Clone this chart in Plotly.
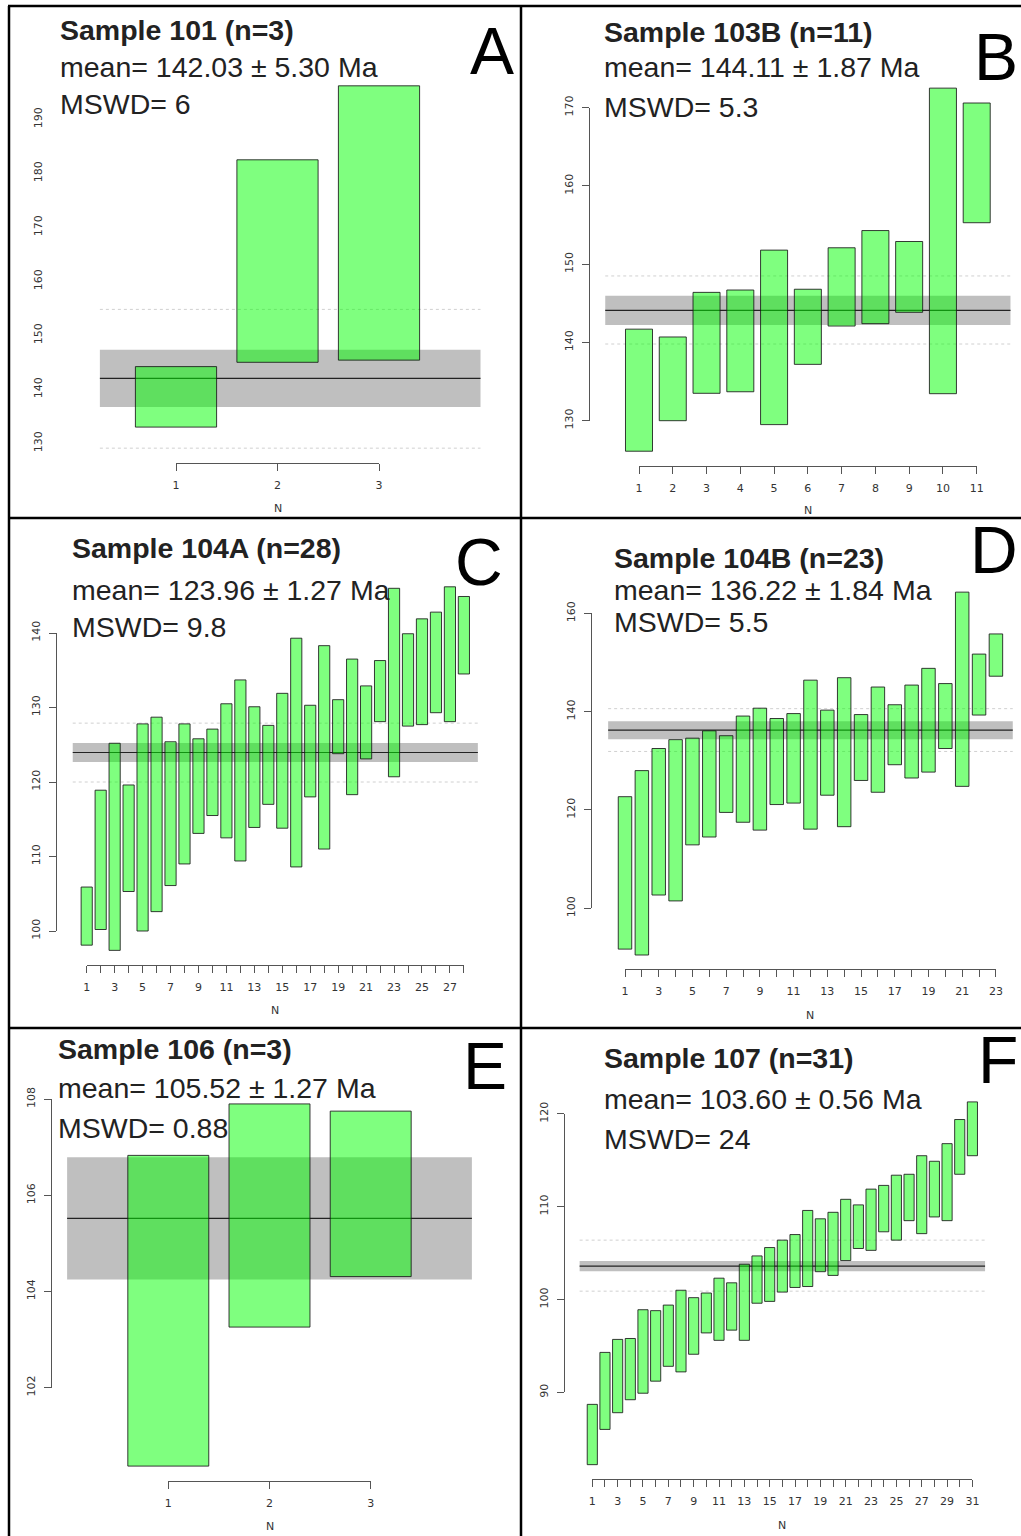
import plotly.graph_objects as go

W, H = 1021, 1536

# ---------------- data ----------------
samples = ["101", "103B", "104A", "104B", "106", "107"]
letters = ["A", "B", "C", "D", "E", "F"]
mean_ages = [142.03, 144.11, 123.96, 136.22, 105.52, 103.60]
mean_errs = [5.30, 1.87, 1.27, 1.84, 1.27, 0.56]
mswd_values = ["6", "5.3", "9.8", "5.5", "0.88", "24"]
spread_hi = [154.8, 148.5, 127.9, 140.6, None, 106.4]
spread_lo = [129.1, 139.8, 120.0, 131.9, None, 100.9]

hi_101 = [144.2, 182.5, 196.2]
lo_101 = [133.0, 145.0, 145.4]

hi_103B = [141.7, 140.7, 146.4, 146.7, 151.8, 146.8, 152.1, 154.3, 152.9, 172.5, 170.6]
lo_103B = [126.1, 130.0, 133.5, 133.7, 129.5, 137.2, 142.1, 142.4, 143.85, 133.45, 155.3]

hi_104A = [105.9, 118.9, 125.2, 119.6, 127.8, 128.7, 125.4, 127.8, 125.8, 127.1,
           130.5, 133.7, 130.1, 127.6, 131.9, 139.3, 130.3, 138.3, 131.05, 136.5,
           132.9, 136.3, 146.0, 139.9, 141.9, 142.8, 146.2, 144.9]
lo_104A = [98.1, 100.2, 97.4, 105.3, 100.0, 102.6, 106.1, 109.0, 113.1, 115.5,
           112.5, 109.4, 113.9, 117.0, 113.8, 108.6, 118.0, 111.0, 123.8, 118.3,
           123.1, 128.1, 120.7, 127.5, 127.7, 129.3, 128.1, 134.5]

hi_104B = [122.7, 128.0, 132.5, 134.3, 134.6, 136.1, 135.1, 139.1, 140.7, 138.6,
           139.6, 146.4, 140.3, 146.9, 139.4, 145.0, 141.4, 145.4, 148.8, 145.7,
           164.3, 151.7, 155.8]
lo_104B = [91.7, 90.5, 102.7, 101.5, 112.9, 114.5, 119.5, 117.5, 115.9, 121.1,
           121.4, 116.1, 123.0, 116.6, 126.0, 123.6, 129.2, 126.5, 127.7, 132.5,
           124.8, 139.3, 147.2]

hi_106 = [106.83, 107.90, 107.75]
lo_106 = [100.37, 103.26, 104.31]

hi_107 = [88.7, 94.3, 95.7, 95.8, 98.9, 98.8, 99.4, 101.0, 100.2, 100.7,
          102.3, 101.8, 103.8, 104.7, 105.6, 106.4, 107.0, 109.6, 108.7, 109.4,
          110.8, 110.2, 111.9, 112.3, 113.4, 113.5, 115.5, 114.9, 116.8, 119.4, 121.3]
lo_107 = [82.2, 86.0, 87.8, 89.2, 89.9, 91.2, 92.8, 92.2, 94.1, 96.4,
          95.6, 96.7, 95.6, 99.6, 99.8, 100.8, 101.3, 101.4, 103.0, 102.6,
          104.2, 105.5, 105.3, 107.3, 106.4, 108.5, 107.1, 108.9, 108.5, 113.5, 115.5]

highs = [hi_101, hi_103B, hi_104A, hi_104B, hi_106, hi_107]
lows = [lo_101, lo_103B, lo_104A, lo_104B, lo_106, lo_107]

# y tick sets (first, last, step)
ytick_specs = [(130, 190, 10), (130, 170, 10), (100, 140, 10), (100, 160, 20), (102, 108, 2), (90, 120, 10)]

# ---------------- panel geometry (pixels) ----------------
cal = [
    dict(X1=176.0, DX=101.5, V0=130, Y0=443.3, DY=5.40, xr=(0.25, 4.0), rows=(8, 516),
         yline=58, showy=False, xline=462.7, nlab=509,
         txt=(58, 30, 67, 104), let=(492, 51)),
    dict(X1=639.0, DX=33.77, V0=130, Y0=420.7, DY=7.825, xr=(0, 12), rows=(8, 516),
         yline=589, showy=True, xline=466, nlab=510,
         txt=(601.7, 31.7, 66.7, 107.3), let=(996, 57)),
    dict(X1=86.7, DX=13.97, V0=100, Y0=931.0, DY=7.45, xr=(0, 29), rows=(520, 1026),
         yline=56, showy=True, xline=965, nlab=1010.7,
         txt=(70, 548.3, 590, 626.7), let=(479, 562)),
    dict(X1=625.0, DX=16.86, V0=100, Y0=908.3, DY=4.917, xr=(0, 24), rows=(520, 1026),
         yline=591.3, showy=True, xline=969, nlab=1015,
         txt=(611.7, 558.3, 590, 622.3), let=(994, 550)),
    dict(X1=168.3, DX=101.2, V0=102, Y0=1387.7, DY=48.1, xr=(0, 4), rows=(1030, 1536),
         yline=51, showy=True, xline=1481, nlab=1526,
         txt=(56, 1049, 1088.3, 1128.3), let=(485, 1066)),
    dict(X1=592.3, DX=12.67, V0=90, Y0=1392.3, DY=9.278, xr=(0, 32), rows=(1030, 1536),
         yline=564.3, showy=True, xline=1479, nlab=1525,
         txt=(601.7, 1058.3, 1099, 1139), let=(998, 1060)),
]


def fx(px):
    return px / W


def fy(py):
    return 1 - py / H


fig = go.Figure()
layout = {}
shapes = []
annotations = []

AXC = "#555555"
TICKFONT = dict(family="DejaVu Sans", size=11, color="#333333")
TXTFONT = "Liberation Sans, Arial, sans-serif"
TXTSIZE = 28.5

for i in range(6):
    c = cal[i]
    hi = highs[i]
    lo = lows[i]
    n = len(hi)
    k = i + 1
    d = i + 7
    xn = "x" if k == 1 else f"x{k}"
    yn = "y" if k == 1 else f"y{k}"
    xa = "xaxis" if k == 1 else f"xaxis{k}"
    ya = "yaxis" if k == 1 else f"yaxis{k}"

    def xpx(v, c=c):
        return c["X1"] + (v - 1) * c["DX"]

    def ypx(v, c=c):
        return c["Y0"] - (v - c["V0"]) * c["DY"]

    def yval(p, c=c):
        return c["V0"] + (c["Y0"] - p) / c["DY"]

    top, bot = c["rows"]
    layout[xa] = dict(domain=[fx(xpx(c["xr"][0])), fx(xpx(c["xr"][1]))],
                      range=list(c["xr"]), visible=False, anchor=yn,
                      showgrid=False, zeroline=False)
    layout[ya] = dict(domain=[fy(bot), fy(top)], range=[yval(bot), yval(top)],
                      visible=False, anchor=xn, showgrid=False, zeroline=False)

    fig.add_trace(go.Bar(
        x=list(range(1, n + 1)),
        y=[h - l for h, l in zip(hi, lo)],
        base=lo,
        width=0.8,
        marker=dict(color="rgba(0,255,0,0.5)",
                    line=dict(color="rgba(25,25,25,0.85)", width=1)),
        xaxis=xn, yaxis=yn, hoverinfo="skip", showlegend=False,
    ))

    m, e = mean_ages[i], mean_errs[i]
    xdom = f"{xn} domain"
    shapes.append(dict(type="rect", xref=xdom, yref=yn, x0=0, x1=1, y0=m - e, y1=m + e,
                       fillcolor="rgba(0,0,0,0.25)", line=dict(width=0), layer="below"))
    shapes.append(dict(type="line", xref=xdom, yref=yn, x0=0, x1=1, y0=m, y1=m,
                       line=dict(color="#222222", width=1.2), layer="below"))
    for sv in (spread_hi[i], spread_lo[i]):
        if sv is not None:
            shapes.append(dict(type="line", xref=xdom, yref=yn, x0=0, x1=1, y0=sv, y1=sv,
                               line=dict(color="#d0d0d0", width=1, dash="dot"), layer="below"))

    # decorative R-style axes
    labels = [str(j) if (n <= 11 or j % 2 == 1) else "" for j in range(1, n + 1)]
    layout[f"xaxis{d}"] = dict(
        domain=[fx(xpx(1)), fx(xpx(n))], range=[1, n], anchor="free",
        position=fy(c["xline"]), showline=True, linecolor=AXC, linewidth=1,
        ticks="outside", ticklen=7, tickcolor=AXC, tickwidth=1,
        tickmode="array", tickvals=list(range(1, n + 1)), ticktext=labels,
        tickfont=TICKFONT, showgrid=False, zeroline=False, ticklabelstandoff=5,
    )
    y0t, y1t, st = ytick_specs[i]
    yt = list(range(y0t, y1t + 1, st))
    layout[f"yaxis{d}"] = dict(
        domain=[fy(ypx(y0t)), fy(ypx(y1t))], range=[y0t, y1t], anchor="free",
        position=fx(c["yline"]), showline=c["showy"], linecolor=AXC, linewidth=1,
        ticks="outside", ticklen=7,
        tickcolor=AXC if c["showy"] else "rgba(0,0,0,0)", tickwidth=1,
        tickmode="array", tickvals=yt, ticktext=[str(v) for v in yt],
        tickangle=-90, tickfont=TICKFONT, showgrid=False, zeroline=False,
        ticklabelstandoff=5,
    )
    fig.add_trace(go.Scatter(x=[1], y=[y0t], xaxis=f"x{d}", yaxis=f"y{d}", mode="markers",
                             marker=dict(opacity=0), hoverinfo="skip", showlegend=False))

    # texts
    tx, t1, t2, t3 = c["txt"]
    annotations.append(dict(text=f"<b>Sample {samples[i]} (n={n})</b>", x=fx(tx), y=fy(t1),
                            xref="paper", yref="paper", xanchor="left", yanchor="middle",
                            showarrow=False, font=dict(family=TXTFONT, size=TXTSIZE, color="#222222")))
    annotations.append(dict(text=f"mean= {m:.2f} ± {e:.2f} Ma", x=fx(tx), y=fy(t2),
                            xref="paper", yref="paper", xanchor="left", yanchor="middle",
                            showarrow=False, font=dict(family=TXTFONT, size=TXTSIZE, color="#222222")))
    annotations.append(dict(text=f"MSWD= {mswd_values[i]}", x=fx(tx), y=fy(t3),
                            xref="paper", yref="paper", xanchor="left", yanchor="middle",
                            showarrow=False, font=dict(family=TXTFONT, size=TXTSIZE, color="#222222")))
    lx, ly = c["let"]
    annotations.append(dict(text=letters[i], x=fx(lx), y=fy(ly), xref="paper", yref="paper",
                            xanchor="center", yanchor="middle", showarrow=False,
                            font=dict(family=TXTFONT, size=66, color="#000000")))
    annotations.append(dict(text="N", x=fx((xpx(1) + xpx(n)) / 2), y=fy(c["nlab"]),
                            xref="paper", yref="paper", xanchor="center", yanchor="middle",
                            showarrow=False, font=dict(family="DejaVu Sans", size=11, color="#333333")))

# panel borders
BW = 2.5
for (x0, y0, x1, y1) in [(8, 6, 1021, 6), (9, 6, 9, 1536), (521, 6, 521, 1536),
                         (9, 518, 1021, 518), (9, 1028, 1021, 1028)]:
    shapes.append(dict(type="line", xref="paper", yref="paper", x0=fx(x0), x1=fx(x1),
                       y0=fy(y0), y1=fy(y1), line=dict(color="black", width=BW), layer="above"))

fig.update_layout(
    **layout,
    shapes=shapes,
    annotations=annotations,
    width=W, height=H, autosize=False,
    margin=dict(l=0, r=0, t=0, b=0, pad=0),
    template="none",
    plot_bgcolor="rgba(0,0,0,0)",
    paper_bgcolor="white",
    showlegend=False,
    barmode="overlay",
)

fig.write_html("out.html")
